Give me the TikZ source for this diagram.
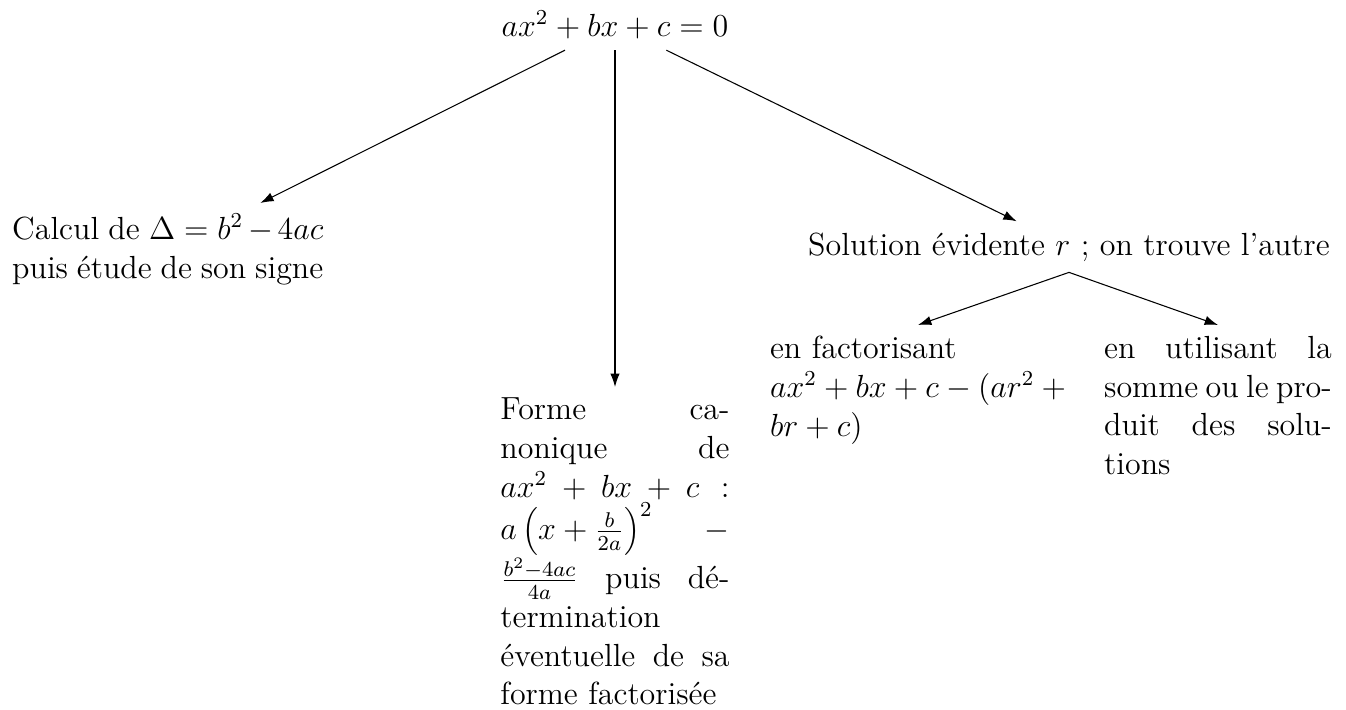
\documentclass[tikz,border=0pt,12pt]{standalone}
\usetikzlibrary{arrows.meta}
\hyphenation{ca-nonique dé-termination pro-duit solu-tions éventuelle factorisée factorisant utilisant}

\begin{document}
\begin{tikzpicture}[
x=0.375pt,
y=-0.375pt,
txt/.style={
inner sep=4pt
},
wrap/.style={
txt,
align=justify
},
arrow/.style={
-{Latex[length=5pt,width=3.5pt]}
}
]
\useasboundingbox (0,0) rectangle (1346,709);

\node (eq) [anchor=north] at (615,0) {$ax^2+bx+c=0$};

\node (delta) [wrap, anchor=north west, text width=4.1cm] at (1,203)
{Calcul de $\Delta=b^2-4ac$ puis étude de son signe};

\node (canon) [wrap, anchor=north, text width=3.02cm] at (615,387)
{Forme canonique de $ax^2+bx+c$ : $a\left(x+\frac{b}{2a}\right)^2-\frac{b^2-4ac}{4a}$ puis détermination éventuelle de sa forme factorisée};

\node (evid) [txt, anchor=base] at (1069,255)
{Solution évidente $r$ ; on trouve l'autre};

\node (fact) [wrap, anchor=north, text width=3.9cm] at (918,325)
{en factorisant\\ $ax^2+bx+c-(ar^2+br+c)$};

\node (somme) [wrap, anchor=north, text width=3cm] at (1218,325)
{en utilisant la somme ou le produit des solutions};

\draw [arrow] (eq) -- (delta);
\draw [arrow] (eq) -- (canon);
\draw [arrow] (eq) -- (evid);
\draw [arrow] (evid.south) -- (fact.north);
\draw [arrow] (evid.south) -- (somme.north);

\end{tikzpicture}
\end{document}
